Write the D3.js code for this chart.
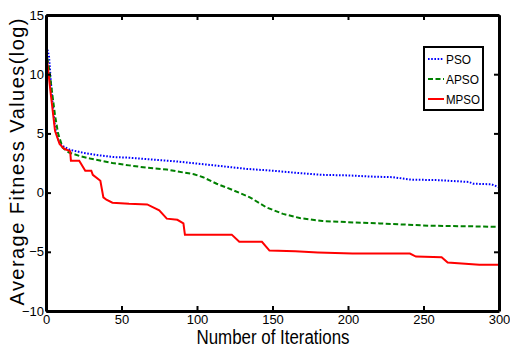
<!DOCTYPE html>
<html>
<head>
<meta charset="utf-8">
<script src="https://cdn.jsdelivr.net/npm/d3@7"></script>
<style>
  body { margin: 0; background: #fff; }
  svg { display: block; }
  .axis text { font-family: "Liberation Sans", Arial, sans-serif; font-size: 13px; fill: #000; }
  .axis line { stroke: #000; stroke-width: 2; }
  .axis path { stroke: #000; stroke-width: 3; }
</style>
</head>
<body>
<div id="chart"></div>
<script>
const xTicks = [0, 50, 100, 150, 200, 250, 300]
const yTicks = [-10, -5, 0, 5, 10, 15]

const seriesNames = ['PSO', 'APSO', 'MPSO']

const iterPSO = [0, 2, 4, 6, 8, 10, 13, 16, 20, 25, 35, 45, 55, 70, 85, 100, 115, 133, 150, 163, 183, 200, 216, 230, 241, 260, 280, 283, 295, 300]
const valPSO = [12.6, 11.5, 8, 5.5, 4.5, 4.0, 3.8, 3.6, 3.5, 3.35, 3.15, 3.0, 2.95, 2.8, 2.65, 2.45, 2.25, 2.0, 1.85, 1.7, 1.5, 1.45, 1.35, 1.3, 1.1, 1.05, 0.9, 0.75, 0.7, 0.45]

const iterAPSO = [0, 2, 4, 6, 8, 11, 15, 22, 30, 44, 55, 67, 80, 91, 98, 104, 113, 124, 135, 146, 157, 168, 183, 200, 221, 254, 282, 300]
const valAPSO = [12, 10.5, 8.5, 6.5, 5, 3.8, 3.4, 3.1, 2.85, 2.5, 2.3, 2.1, 1.95, 1.7, 1.55, 1.3, 0.75, 0.2, -0.4, -1.25, -1.8, -2.15, -2.4, -2.5, -2.6, -2.8, -2.85, -2.9]

const iterMPSO = [0, 3, 6, 9, 12, 16, 16.5, 22, 26, 30, 31, 36, 38, 40, 44, 55, 67, 75, 80, 87, 91, 92, 123, 128, 143, 148, 165, 180, 203, 241, 245, 262, 266, 287, 300]
const valMPSO = [12, 8.5, 5.2, 4.1, 3.7, 3.5, 2.7, 2.7, 1.85, 1.85, 1.5, 1.0, -0.4, -0.6, -0.85, -0.95, -1.0, -1.5, -2.2, -2.3, -2.6, -3.55, -3.55, -4.15, -4.15, -4.9, -4.95, -5.05, -5.15, -5.15, -5.4, -5.45, -5.9, -6.1, -6.1]

const colors = ['#0000ff', '#008000', '#ff0000']
const dashes = ['1.6,1.6', '5,2.5', null]

const width = 510
const height = 353
const margin = { top: 15, right: 11, bottom: 42, left: 46 }

const x = d3.scaleLinear().domain([0, 300]).range([margin.left, width - margin.right])
const y = d3.scaleLinear().domain([-10, 15]).range([height - margin.bottom, margin.top])

const svg = d3.select('#chart').append('svg')
  .attr('width', width)
  .attr('height', height)

const series = [
  { name: seriesNames[0], iters: iterPSO, vals: valPSO },
  { name: seriesNames[1], iters: iterAPSO, vals: valAPSO },
  { name: seriesNames[2], iters: iterMPSO, vals: valMPSO }
]

const line = d3.line()
  .x(d => x(d[0]))
  .y(d => y(d[1]))

series.forEach((s, i) => {
  svg.append('path')
    .datum(s.iters.map((it, k) => [it, s.vals[k]]))
    .attr('d', line)
    .attr('fill', 'none')
    .attr('stroke', colors[i])
    .attr('stroke-width', 2)
    .attr('stroke-dasharray', dashes[i])
})

// axes, ticks pointing inward on all four sides
svg.append('g').attr('class', 'axis')
  .attr('transform', 'translate(0,' + y(-10) + ')')
  .call(d3.axisBottom(x).tickValues(xTicks).tickSizeInner(-5).tickSizeOuter(0).tickPadding(4))
svg.append('g').attr('class', 'axis')
  .attr('transform', 'translate(' + x(0) + ',0)')
  .call(d3.axisLeft(y).tickValues(yTicks).tickSizeInner(-5).tickSizeOuter(0).tickPadding(2))
svg.append('g').attr('class', 'axis')
  .attr('transform', 'translate(0,' + y(15) + ')')
  .call(d3.axisTop(x).tickValues(xTicks).tickSizeInner(-5).tickSizeOuter(0).tickFormat(''))
svg.append('g').attr('class', 'axis')
  .attr('transform', 'translate(' + x(300) + ',0)')
  .call(d3.axisRight(y).tickValues(yTicks).tickSizeInner(-5).tickSizeOuter(0).tickFormat(''))

// axis titles
svg.append('text')
  .attr('x', 273)
  .attr('y', 344)
  .attr('text-anchor', 'middle')
  .attr('font-family', 'Liberation Sans, Arial, sans-serif')
  .attr('font-size', 20)
  .attr('textLength', 153)
  .attr('lengthAdjust', 'spacingAndGlyphs')
  .text('Number of Iterations')

svg.append('text')
  .attr('transform', 'translate(24,162) rotate(-90)')
  .attr('text-anchor', 'middle')
  .attr('font-family', 'Liberation Sans, Arial, sans-serif')
  .attr('font-size', 20)
  .attr('textLength', 287)
  .attr('lengthAdjust', 'spacing')
  .text('Average Fitness Values(log)')

// legend
const legend = svg.append('g').attr('transform', 'translate(424,47)')
legend.append('rect')
  .attr('width', 59)
  .attr('height', 63)
  .attr('fill', '#fff')
  .attr('stroke', '#000')
  .attr('stroke-width', 2)

const legendTextLen = [25, 33, 34]
seriesNames.forEach((name, i) => {
  const ly = 12 + i * 20
  legend.append('line')
    .attr('x1', 4).attr('x2', 20)
    .attr('y1', ly).attr('y2', ly)
    .attr('stroke', colors[i])
    .attr('stroke-width', 2)
    .attr('stroke-dasharray', dashes[i])
  legend.append('text')
    .attr('x', 22)
    .attr('y', ly + 5)
    .attr('font-family', 'Liberation Sans, Arial, sans-serif')
    .attr('font-size', 13.5)
    .attr('textLength', legendTextLen[i])
    .attr('lengthAdjust', 'spacingAndGlyphs')
    .text(name)
})
</script>
</body>
</html>
